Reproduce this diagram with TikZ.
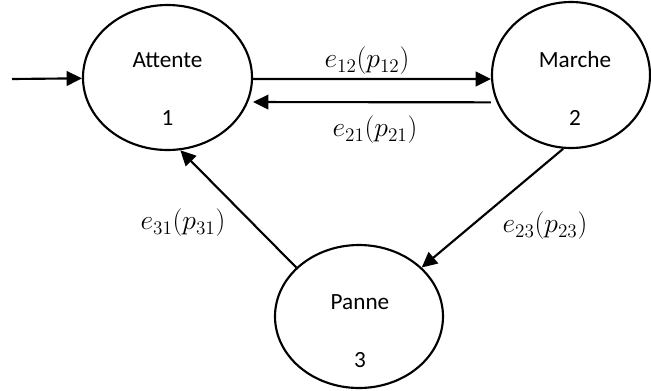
\documentclass[tikz,border=0pt]{standalone}
\usepackage{amsmath}
\usepackage{fontspec}
\setmainfont{Carlito}
\usepackage{tikz}
\usetikzlibrary{arrows.meta,shapes.geometric}

\begin{document}
\begin{tikzpicture}
            [x=0.75pt,y=-0.75pt,line width=1.6pt,
             every node/.style={font=\fontsize{17.4}{20}\selectfont},
             state/.style={ellipse,draw,inner sep=0pt},
             trans/.style={-{Triangle[length=11.5pt,width=11pt]}},
             lbl/.style={font=\fontsize{20.5}{24}\selectfont}]
            \useasboundingbox (0,0) rectangle (651,390);
            % the states
            \node[state,minimum width=126.75pt,minimum height=108.75pt] (1) at (167.5,77.5) {};
            \node[state,minimum width=118.5pt,minimum height=109.5pt] (2) at (571,75) {};
            \node[state,minimum width=126pt,minimum height=107.25pt] (3) at (359,316.5) {};
            \node (n1) at (167.5,60) {Attente};
            \node (k1) at (167.5,118) {1};
            \node (n2) at (575,60) {Marche};
            \node (k2) at (575,118) {2};
            \node (n3) at (360,302) {Panne};
            \node (k3) at (360,360) {3};
            \coordinate (start) at (12,79);
            % transitions
            \draw[trans] (start) -- (1);
            \draw[trans] ([yshift=-1.1pt]1.east) -- ([yshift=-3pt]2.west);
            \draw[trans] ([yshift=-20.5pt]2.west) -- ([yshift=-18.4pt]1.east);
            \draw[trans] (2.-96) -- (3.38);
            \draw[trans] (3.142) -- (1.-80);
            % labels
            \node[lbl] (l12) at (367,61) {$e_{12}(p_{12})$};
            \node[lbl] (l21) at (375,130) {$e_{21}(p_{21})$};
            \node[lbl] (l23) at (545,226) {$e_{23}(p_{23})$};
            \node[lbl] (l31) at (183,223) {$e_{31}(p_{31})$};
        \end{tikzpicture}
\end{document}
